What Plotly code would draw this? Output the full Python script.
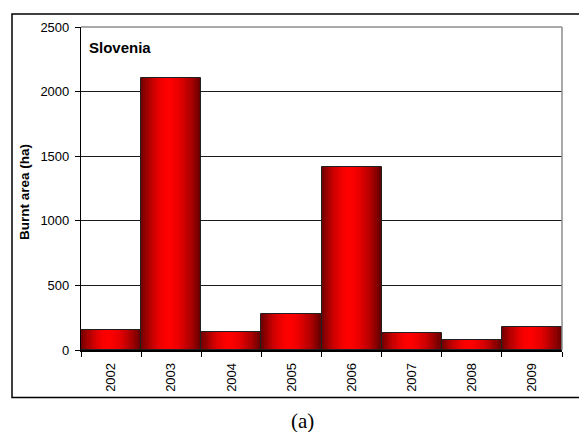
import plotly.graph_objects as go

# Burnt area per year, Slovenia
years = ["2002", "2003", "2004", "2005", "2006", "2007", "2008", "2009"]
burnt_area = [155, 2105, 140, 280, 1415, 128, 77, 180]
y_ticks = [0, 500, 1000, 1500, 2000, 2500]

N_STRIPS = 28

# plot-area geometry in pixels
L, R, T, B = 81, 17, 27, 82
W, H = 579, 432
PW, PH = W - L - R, H - T - B


def px(x):
    return (x - L) / PW


def py(y):
    return (H - B - y) / PH


def shade(t):
    # cylinder-like shading: dark edges, bright red slightly left of centre
    c = 0.45
    d = abs(t - c) / (c if t < c else 1 - c)
    lo = 110 if t < c else 95
    r = lo + (255 - lo) * (1 - d ** 1.7)
    return f"rgb({int(r)},0,0)"


fig = go.Figure()
for k in range(N_STRIPS):
    t = (k + 0.5) / N_STRIPS
    fig.add_trace(go.Bar(
        x=years, y=burnt_area,
        width=1.0 / N_STRIPS + 0.002,
        offset=-0.5 + k / N_STRIPS,
        marker=dict(color=shade(t), line=dict(width=0)),
        hoverinfo="skip", showlegend=False,
    ))

# bar outlines
fig.add_trace(go.Bar(
    x=years, y=burnt_area, width=1.0, offset=-0.5,
    marker=dict(color="rgba(0,0,0,0)", line=dict(color="#202020", width=1)),
    hoverinfo="x+y", showlegend=False,
))

fig.update_layout(
    width=W, height=H,
    margin=dict(l=L, r=R, t=T, b=B),
    paper_bgcolor="white", plot_bgcolor="white",
    barmode="overlay", bargap=0,
    font=dict(family="Liberation Sans, Arial, sans-serif", size=13, color="black"),
    xaxis=dict(
        type="category", range=[-0.5, 7.5],
        tickson="boundaries", ticks="outside", ticklen=5, tickcolor="black",
        tickangle=-90, tickfont=dict(size=13), ticklabelstandoff=6,
        showgrid=False, showline=True, linecolor="black", linewidth=1.5,
        mirror=False, zeroline=False,
    ),
    yaxis=dict(
        range=[0, 2500], tickvals=y_ticks,
        ticks="outside", ticklen=5, tickcolor="black",
        tickfont=dict(size=13), ticklabelstandoff=3,
        showgrid=True, gridcolor="#1a1a1a", gridwidth=1,
        showline=True, linecolor="black", linewidth=1.2,
        zeroline=False,
    ),
    shapes=[
        # plot-area frame on top and right
        dict(type="line", xref="paper", yref="paper", x0=0, x1=1, y0=1, y1=1,
             line=dict(color="#8c8c8c", width=1.5)),
        dict(type="line", xref="paper", yref="paper", x0=1, x1=1, y0=0, y1=1,
             line=dict(color="#8c8c8c", width=1.5)),
        # chart border
        dict(type="rect", xref="paper", yref="paper",
             x0=px(12), x1=px(590), y0=py(397.5), y1=py(14),
             line=dict(color="black", width=1.5), fillcolor="rgba(0,0,0,0)"),
    ],
    annotations=[
        dict(text="<b>Slovenia</b>", xref="paper", yref="paper",
             x=px(87), y=py(47), xanchor="left", yanchor="middle",
             showarrow=False, font=dict(size=15)),
        dict(text="<b>Burnt area (ha)</b>", xref="paper", yref="paper",
             x=px(24), y=py(192), xanchor="center", yanchor="middle",
             textangle=-90, showarrow=False, font=dict(size=13.5)),
        dict(text="(a)", xref="paper", yref="paper",
             x=px(302), y=py(421),
             xanchor="center", yanchor="middle", showarrow=False,
             font=dict(family="Liberation Serif, Times New Roman, serif", size=21)),
    ],
)

fig.write_html("out.html")
